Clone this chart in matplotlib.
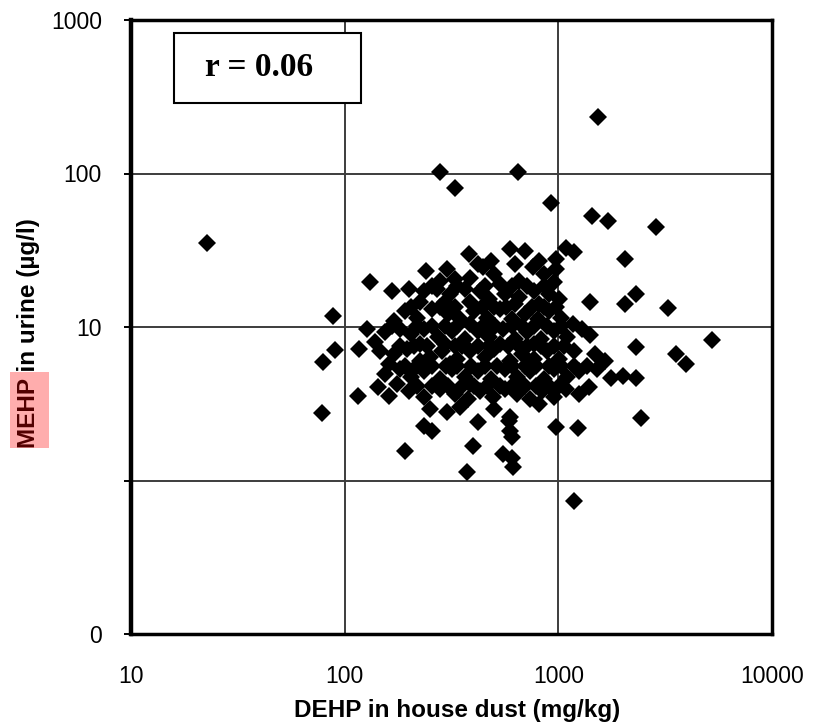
import matplotlib
matplotlib.use("Agg")
import matplotlib.pyplot as plt
from matplotlib.patches import Rectangle
from matplotlib.ticker import NullLocator, FixedLocator

plt.rcParams['font.family'] = ['Liberation Sans', 'DejaVu Sans']

# DEHP in house dust (mg/kg)
dehp = [
    # sparse / outlying points
    22.6, 278, 327, 650, 1540, 920, 1430, 1700, 2850, 2060, 1090, 1190, 1410, 2060,
    2320, 3270, 5250, 3570, 3970, 2320, 1770, 2000, 2320, 2450, 1190, 980, 1230,
    # left and lower edge
    131, 167, 88, 90, 79, 78.5, 116, 161, 191, 234, 256, 397, 372, 423, 585, 591,
    604, 549, 604, 611,
    # cluster, top
    591, 695, 380, 970, 486, 816, 419,
    241, 300, 446, 757, 980, 278, 327, 384, 502, 624, 861, 531, 658, 959,
    256, 334, 452, 604, 717, 861,
    201, 236, 270, 310, 364, 428, 476, 560, 658, 773, 909, 1012, 224, 294, 384, 624, 816,
    205, 278, 327, 437, 502, 572, 749, 861, 980,
    # cluster, middle
    191, 219, 256, 303, 345, 405, 466, 531, 604, 695, 799, 909, 1034, 1177, 171, 384,
    166, 219, 256, 294, 337, 446, 508, 604, 673, 773, 889, 1034,
    127, 154, 181, 205, 236, 272, 317, 364, 419, 476, 549, 624, 717, 834, 959, 1103,
    1297, 1413, 138, 224, 294, 531, 773,
    181, 212, 244, 327, 353, 419, 476, 579, 658, 717, 834, 959, 1068,
    117, 146, 171, 195, 250, 284, 337, 384, 452, 502, 591, 673, 773, 889, 1012, 1189,
    1492, 1661, 162, 224, 310, 733,
    191, 219, 256, 297, 337, 392, 452, 519, 604, 695, 790, 909, 1034, 1189, 1369,
    # cluster, lower
    154, 181, 205, 236, 278, 317, 364, 419, 486, 560, 644, 733, 861, 959, 1103, 1256,
    1523, 176, 384, 658,
    219, 256, 303, 353, 405, 466, 531, 604, 695, 790, 909, 1012,
    143, 201, 236, 278, 327, 376, 428, 492, 560, 644, 733, 843, 959, 1091, 1256, 1398,
    250, 300, 345, 502, 591, 816,
]

# MEHP in urine (ug/l)
mehp = [
    # sparse / outlying points
    35.1, 103, 81, 102, 232, 64, 53, 49, 45, 27.7, 32.6, 30.8, 14.5, 14.1,
    16.4, 13.3, 8.2, 6.7, 5.7, 7.4, 4.66, 4.8, 4.66, 2.56, 0.73, 2.24, 2.2,
    # left and lower edge
    19.6, 17.2, 11.8, 7.1, 5.9, 2.76, 3.56, 3.56, 1.56, 2.27, 2.11, 1.68, 1.14, 2.41,
    2.45, 2.11, 1.92, 1.49, 1.41, 1.23,
    # cluster, top
    32.2, 31.3, 29.9, 27.7, 26.9, 26.9, 25.7,
    23.1, 23.8, 24.5, 24.5, 23.8, 19.9, 20.5, 21.0, 22.1, 25.7, 22.1, 19.0, 19.9, 19.6,
    18.5, 18.5, 18.5, 18.5, 18.5, 18.5,
    17.7, 17.2, 17.7, 16.4, 17.7, 17.2, 15.2, 16.4, 15.7, 17.2, 16.4, 15.2, 14.5, 14.5,
    14.5, 14.1, 14.1,
    13.5, 13.5, 13.5, 13.5, 13.5, 13.5, 13.5, 13.5, 13.5,
    # cluster, middle
    12.7, 11.5, 13.1, 12.2, 11.3, 12.7, 11.5, 13.1, 11.3, 12.2, 11.3, 12.7, 11.5, 10.5,
    10.9, 10.5,
    10.1, 10.1, 10.1, 10.1, 10.1, 10.1, 10.1, 10.1, 10.1, 10.1, 10.1, 10.1,
    9.70, 9.27, 9.70, 9.00, 9.70, 8.60, 9.42, 8.36, 9.42, 8.60, 9.70, 8.36, 9.27, 8.36,
    9.42, 8.60, 9.70, 8.87, 8.00, 7.76, 7.76, 7.76, 7.76,
    7.52, 7.52, 7.52, 7.52, 7.52, 7.52, 7.52, 7.52, 7.52, 7.52, 7.52, 7.52, 7.52,
    7.19, 6.98, 6.67, 7.19, 6.38, 6.98, 6.19, 6.98, 6.38, 7.19, 6.01, 6.67, 6.19, 6.98,
    6.19, 6.98, 6.67, 6.01, 5.74, 6.01, 5.74, 5.74,
    5.58, 5.58, 5.58, 5.58, 5.58, 5.58, 5.58, 5.58, 5.58, 5.58, 5.58, 5.58, 5.58, 5.58,
    5.58,
    # cluster, lower
    4.95, 5.33, 4.71, 5.17, 4.59, 5.33, 4.71, 5.17, 4.59, 5.33, 4.71, 5.17, 4.59, 5.33,
    4.71, 5.17, 5.33, 4.26, 4.26, 4.26,
    4.13, 4.13, 4.13, 4.13, 4.13, 4.13, 4.13, 4.13, 4.13, 4.13, 4.13, 4.13,
    4.06, 3.83, 3.51, 3.95, 3.67, 3.40, 3.83, 3.51, 3.95, 3.67, 3.40, 3.83, 3.51, 3.95,
    3.67, 4.06,
    2.93, 2.80, 3.01, 2.93, 2.60, 3.16,
]

x_ticks = [10, 100, 1000, 10000]
x_tick_labels = ["10", "100", "1000", "10000"]
y_ticks = [0.1, 1, 10, 100, 1000]
y_tick_labels = ["0", "", "10", "100", "1000"]
x_label = "DEHP in house dust (mg/kg)"
y_label = "MEHP in urine (µg/l)"
r_text = "r = 0.06"

W, H = 814, 722
fig = plt.figure(figsize=(W / 100, H / 100), dpi=100)
fig.patch.set_facecolor('white')
ax = fig.add_axes([131 / W, 88 / H, 641 / W, 614 / H])
ax.set_xscale('log')
ax.set_yscale('log')
ax.set_xlim(10, 10000)
ax.set_ylim(0.1, 1000)

ax.plot(dehp, mehp, linestyle='none', marker='D', color='black',
        markersize=8.8, markeredgewidth=0, zorder=3, clip_on=False)

ax.xaxis.set_major_locator(FixedLocator(x_ticks))
ax.yaxis.set_major_locator(FixedLocator(y_ticks))
ax.xaxis.set_minor_locator(NullLocator())
ax.yaxis.set_minor_locator(NullLocator())
ax.set_xticklabels(x_tick_labels)
ax.set_yticklabels(y_tick_labels)
ax.grid(True, which='major', color='#3c3c3c', linewidth=1.4, zorder=1)
ax.set_axisbelow(True)

ax.tick_params(axis='x', length=0, pad=22, labelsize=16.5)
ax.tick_params(axis='y', length=5, width=1.4, direction='out', pad=16, labelsize=16.5)
for s in ax.spines.values():
    s.set_linewidth(2.5)
    s.set_zorder(4)
ax.spines['left'].set_linewidth(3.2)

# correlation box
fig.add_artist(Rectangle((174 / W, 1 - 103 / H), 187 / W, 70 / H,
                         transform=fig.transFigure, facecolor='white',
                         edgecolor='black', linewidth=1.5, zorder=5))
fig.text(259 / W, 1 - 68 / H, r_text, family=['Liberation Serif', 'DejaVu Serif'],
         weight='bold', size=24, ha='center', va='center', zorder=6)

# axis labels
fig.text(457 / W, 1 - 717 / H, x_label, ha='center', va='baseline',
         weight='bold', size=17.5)
fig.text(29 / W, 1 - 333 / H, y_label, rotation=90, ha='center', va='center',
         weight='bold', size=17.5)
# pink highlight over "MEHP"
fig.add_artist(Rectangle((10 / W, 1 - 448 / H), 39 / W, 76 / H,
                         transform=fig.transFigure, facecolor='red', alpha=0.32,
                         edgecolor='none', zorder=10))

fig.savefig('out.png', dpi=100, facecolor='white')
